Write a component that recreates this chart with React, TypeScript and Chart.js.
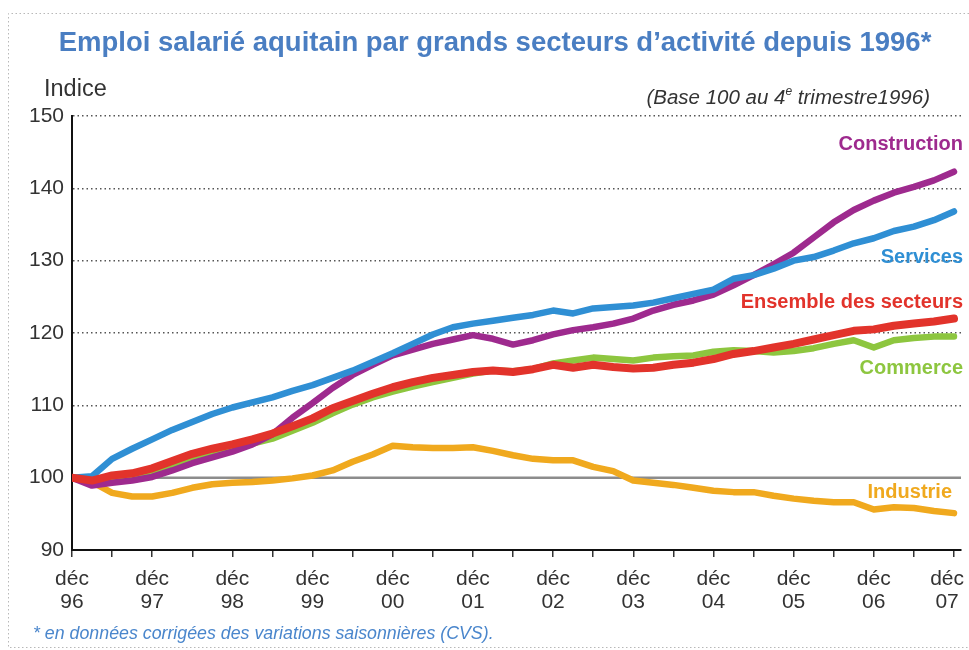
import React, { useEffect, useRef } from "react";
import { Chart, registerables } from "chart.js";

Chart.register(...registerables);

// ---- Data (quarterly index, base 100 = 4th quarter 1996) ----
const yearLabels = ["96", "97", "98", "99", "00", "01", "02", "03", "04", "05", "06", "07"];
const quarterMonths = ["mars", "juin", "sept", "déc"];
// categories: déc 96, mars 97, ... déc 07 (45 quarters)
const quarters: string[] = ["déc 96"];
yearLabels.slice(1).forEach((yy) => quarterMonths.forEach((m) => quarters.push(`${m} ${yy}`)));

const construction = [
  100, 98.9, 99.3, 99.6, 100.1, 101, 102, 102.8, 103.6, 104.6, 106, 108.3, 110.3, 112.4, 114.2,
  115.6, 116.9, 117.7, 118.5, 119.1, 119.7, 119.2, 118.4, 119, 119.8, 120.4, 120.8, 121.3, 122,
  123.1, 123.9, 124.5, 125.3, 126.6, 128, 129.5, 131.1, 133.2, 135.3, 137, 138.3, 139.4, 140.2,
  141.1, 142.3,
];
const services = [
  100, 100.2, 102.6, 104, 105.3, 106.6, 107.7, 108.8, 109.7, 110.4, 111.1, 112, 112.8, 113.8, 114.8,
  116, 117.2, 118.5, 119.8, 120.8, 121.3, 121.7, 122.1, 122.5, 123.1, 122.7, 123.4, 123.6, 123.8,
  124.2, 124.8, 125.4, 126, 127.5, 128, 128.9, 130, 130.5, 131.4, 132.4, 133.1, 134.1, 134.7,
  135.6, 136.8,
];
const ensemble = [
  100, 99.6, 100.3, 100.6, 101.3, 102.3, 103.3, 104, 104.6, 105.3, 106.1, 107.1, 108.2, 109.6, 110.6,
  111.6, 112.5, 113.2, 113.8, 114.2, 114.6, 114.8, 114.6, 115, 115.6, 115.2, 115.6, 115.3, 115.1,
  115.2, 115.6, 115.9, 116.4, 117.1, 117.5, 118, 118.5, 119.1, 119.7, 120.3, 120.5, 121, 121.3,
  121.6, 122,
];
const commerce = [
  100, 99.7, 99.8, 100, 100.6, 101.5, 102.6, 103.4, 104, 104.7, 105.4, 106.5, 107.6, 108.9, 110.1,
  111.1, 111.9, 112.6, 113.2, 113.8, 114.4, 114.8, 114.7, 115, 115.8, 116.2, 116.6, 116.4, 116.2,
  116.6, 116.8, 116.9, 117.4, 117.6, 117.5, 117.3, 117.5, 117.9, 118.5, 119, 118, 119, 119.3,
  119.5, 119.5,
];
const industrie = [
  100, 99.4, 97.9, 97.4, 97.4, 97.9, 98.6, 99.1, 99.3, 99.4, 99.6, 99.9, 100.3, 101, 102.2,
  103.2, 104.4, 104.2, 104.1, 104.1, 104.2, 103.7, 103.1, 102.6, 102.4, 102.4, 101.5, 100.9, 99.6,
  99.3, 99, 98.6, 98.2, 98, 98, 97.5, 97.1, 96.8, 96.6, 96.6, 95.6, 95.9, 95.8, 95.4, 95.1,
];

const yTicks = [90, 100, 110, 120, 130, 140, 150];
const referenceLevel = 100;

const seriesNames = ["Ensemble des secteurs", "Services", "Construction", "Commerce", "Industrie"];
const seriesValues = [ensemble, services, construction, commerce, industrie];
const seriesColors = ["#e2332b", "#2f8fd4", "#9e2a8e", "#8dc63f", "#f0a91e"];
const seriesWidths = [8, 6.5, 6.5, 6.5, 6.5];

const titleText = "Emploi salarié aquitain par grands secteurs d\u2019activité depuis 1996*";
const yAxisTitle = "Indice";
const footnote = "* en données corrigées des variations saisonnières (CVS).";

const FONT = '"Liberation Sans", Arial, sans-serif';

const decorPlugin = {
  id: "decor",
  beforeDatasetsDraw(chart: any) {
    const { ctx, chartArea } = chart;
    const y = chart.scales.y.getPixelForValue(referenceLevel);
    ctx.save();
    ctx.strokeStyle = "#8c8c8c";
    ctx.lineWidth = 2.5;
    ctx.beginPath();
    ctx.moveTo(chartArea.left, y);
    ctx.lineTo(chartArea.right, y);
    ctx.stroke();
    ctx.restore();
  },
  afterDraw(chart: any) {
    const { ctx } = chart;
    const xs = chart.scales.x;
    ctx.save();

    // dotted frame
    ctx.strokeStyle = "#b8b8b8";
    ctx.lineWidth = 1;
    ctx.setLineDash([1.5, 2.5]);
    ctx.beginPath();
    ctx.moveTo(969, 13.5);
    ctx.lineTo(8.5, 13.5);
    ctx.lineTo(8.5, 647.5);
    ctx.lineTo(969, 647.5);
    ctx.stroke();
    ctx.setLineDash([]);

    // title
    ctx.fillStyle = "#4a7ec2";
    ctx.font = `bold 27.5px ${FONT}`;
    ctx.textAlign = "center";
    ctx.textBaseline = "middle";
    ctx.fillText(titleText, 495, 43);

    // Indice
    ctx.fillStyle = "#333";
    ctx.font = `23.5px ${FONT}`;
    ctx.textAlign = "left";
    ctx.fillText(yAxisTitle, 44, 90);

    // base note with superscript
    const fontMain = `italic 20.5px ${FONT}`;
    const fontSup = `italic 12px ${FONT}`;
    const parts: [string, string, number][] = [
      ["(Base 100 au 4", fontMain, 0],
      ["e", fontSup, -6],
      [" trimestre1996)", fontMain, 0],
    ];
    let total = 0;
    parts.forEach(([t, f]) => {
      ctx.font = f;
      total += ctx.measureText(t).width;
    });
    let px = 930 - total;
    ctx.fillStyle = "#333";
    parts.forEach(([t, f, dy]) => {
      ctx.font = f;
      ctx.fillText(t, px, 98 + dy);
      px += ctx.measureText(t).width;
    });

    // footnote
    ctx.fillStyle = "#4a86cc";
    ctx.font = `italic 17.8px ${FONT}`;
    ctx.fillText(footnote, 33, 634);

    // x tick labels (two lines)
    ctx.fillStyle = "#333";
    ctx.font = `21px ${FONT}`;
    ctx.textAlign = "center";
    yearLabels.forEach((yy, j) => {
      let x = xs.getPixelForValue(j * 4);
      const w = ctx.measureText("déc").width;
      if (x + w / 2 > 964) x = 964 - w / 2;
      ctx.fillText("déc", x, 579);
      ctx.fillText(yy, x, 602);
    });

    // series labels
    const labelPos: [number, number, number][] = [
      [963, 302, 0],
      [963, 257, 1],
      [963, 144, 2],
      [963, 368, 3],
      [952, 492, 4],
    ];
    ctx.font = `bold 20px ${FONT}`;
    ctx.textAlign = "right";
    labelPos.forEach(([x, y, k]) => {
      ctx.fillStyle = seriesColors[k];
      ctx.fillText(seriesNames[k], x, y);
    });

    ctx.restore();
  },
};

export default function App() {
  const ref = useRef<HTMLCanvasElement | null>(null);

  useEffect(() => {
    document.body.style.margin = "0";
    const canvas = ref.current;
    if (!canvas) return;
    const chart = new Chart(canvas, {
      type: "line",
      data: {
        labels: quarters,
        datasets: seriesNames.map((name, k) => ({
          label: name,
          data: seriesValues[k].map((v, i) => ({ x: i, y: v })),
          borderColor: seriesColors[k],
          backgroundColor: seriesColors[k],
          borderWidth: seriesWidths[k],
          pointRadius: 0,
          tension: 0,
          borderJoinStyle: "round" as const,
          borderCapStyle: "round" as const,
          fill: false,
        })),
      },
      options: {
        responsive: false,
        animation: false,
        devicePixelRatio: 1,
        layout: { padding: { top: 116, right: 8, left: 0, bottom: 0 } },
        plugins: {
          legend: { display: false },
          tooltip: { enabled: false },
          title: { display: false },
        },
        scales: {
          x: {
            type: "linear",
            min: 0,
            max: quarters.length - 1 + 0.35,
            afterBuildTicks: (scale: any) => {
              scale.ticks = quarters
                .map((_, i) => i)
                .filter((i) => i % 2 === 0)
                .map((v) => ({ value: v }));
            },
            afterFit: (scale: any) => {
              scale.height = 100;
              scale.paddingLeft = 0;
              scale.paddingRight = 0;
            },
            ticks: { display: false },
            grid: {
              drawOnChartArea: false,
              drawTicks: true,
              tickLength: 7,
              tickWidth: 1.5,
              tickColor: "#333",
              lineWidth: 1.5,
              color: "#333",
            },
            border: { display: true, color: "#111", width: 2 },
          },
          y: {
            min: yTicks[0],
            max: yTicks[yTicks.length - 1],
            afterBuildTicks: (scale: any) => {
              scale.ticks = yTicks.map((v) => ({ value: v }));
            },
            afterFit: (scale: any) => {
              scale.width = 72;
              scale.paddingTop = 0;
              scale.paddingBottom = 0;
            },
            ticks: {
              color: "#333",
              font: { family: FONT, size: 21 },
              padding: 8,
            },
            grid: {
              drawTicks: false,
              lineWidth: 1.5,
              color: (c: any) => (c.tick && c.tick.value === yTicks[0] ? "rgba(0,0,0,0)" : "#555"),
            },
            border: { display: true, color: "#111", width: 2, dash: [1.5, 3] },
          },
        },
      },
      plugins: [decorPlugin],
    });
    return () => chart.destroy();
  }, []);

  return (
    <div style={{ width: 969, height: 650, background: "#fff" }}>
      <canvas ref={ref} width={969} height={650} style={{ display: "block" }} />
    </div>
  );
}
